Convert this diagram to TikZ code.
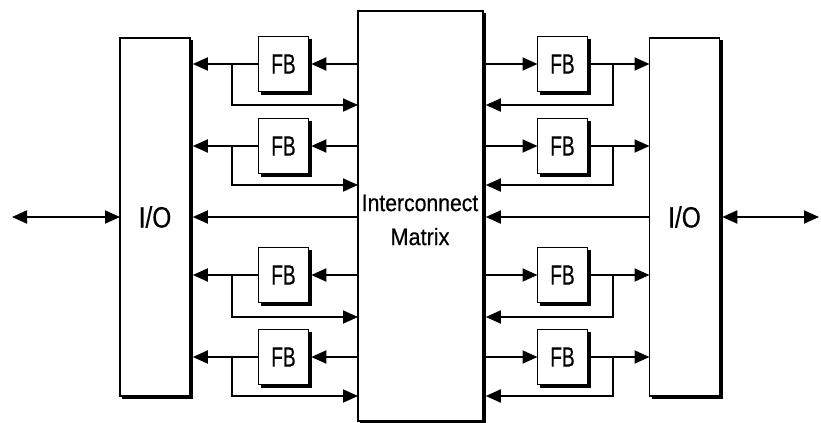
\documentclass[tikz,border=0pt]{standalone}
\usepackage{fontspec}
\newfontfamily\lab[FakeBold=0.5]{Liberation Sans}
\usetikzlibrary{arrows.meta,calc}
\tikzset{
  box/.style={draw=black, line width=0.6pt, inner sep=0pt, outer sep=0pt, fill=white},
  fbbox/.style={box, minimum width=25pt, minimum height=27.5pt, font=\fontsize{14pt}{14pt}\lab},
  iobox/.style={box, minimum width=35pt, minimum height=179pt, font=\fontsize{14.7pt}{14.7pt}\lab},
  mxbox/.style={box, minimum width=62.5pt, minimum height=205pt},
  shadowline/.style={line width=1.2pt, line join=miter},
  conn/.style={line width=0.95pt},
  arr/.style={conn, -{Triangle[length=7.5pt,width=6.5pt]}},
  darr/.style={conn, {Triangle[length=7.5pt,width=6.5pt]}-{Triangle[length=7.5pt,width=6.5pt]}},
}
\newcommand\fbtxt{\scalebox{0.68}[1]{FB}}
\newcommand\iotxt{\scalebox{0.83}[1]{I/O}}
\begin{document}
\begin{tikzpicture}[x=0.5pt,y=-0.5pt]
\useasboundingbox (0,0) rectangle (821,423);
% main blocks
\node[iobox] (lio) at (155,217) {\iotxt};
\node[iobox] (rio) at (684.5,217) {\iotxt};
\node[mxbox] (mx) at (420.5,216) {};
\node[font=\fontsize{11.9pt}{17pt}\lab, align=center, inner sep=0pt] (mxt) at (420,220)
  {\scalebox{0.89}[1]{Interconnect}\\\scalebox{0.91}[1]{Matrix}};
% function blocks
\node[fbbox] (fL1) at (283.5,64) {\fbtxt};
\node[fbbox] (fL2) at (283.5,146) {\fbtxt};
\node[fbbox] (fL3) at (283.5,275) {\fbtxt};
\node[fbbox] (fL4) at (283.5,357) {\fbtxt};
\node[fbbox] (fR1) at (562.5,64) {\fbtxt};
\node[fbbox] (fR2) at (562.5,146) {\fbtxt};
\node[fbbox] (fR3) at (562.5,275) {\fbtxt};
\node[fbbox] (fR4) at (562.5,357) {\fbtxt};
% shadows
\foreach \n in {lio,rio,mx,fL1,fL2,fL3,fL4,fR1,fR2,fR3,fR4}{
  \draw[shadowline] ([xshift=0.9pt,yshift=-1pt]\n.north east) -- ([xshift=0.9pt,yshift=-0.9pt]\n.south east) -- ([xshift=1pt,yshift=-0.9pt]\n.south west);
}
% branch coordinates
\foreach \i/\r/\f in {1/64/105, 2/146/185, 3/275/317, 4/357/396}{
  \coordinate (bL\i) at (232,\r);
  \coordinate (cL\i) at (232,\f);
  \coordinate (bR\i) at (613,\r);
  \coordinate (cR\i) at (613,\f);
}
\coordinate (lend) at (12,217);
\coordinate (rend) at (819,217);
% connectors
\foreach \i in {1,2,3,4}{
  \draw[arr] (mx.west |- fL\i.east) -- ([xshift=1.4pt]fL\i.east);
  \draw[arr] (fL\i.west) -- ([xshift=1.4pt]lio.east |- fL\i.west);
  \draw[arr] (bL\i) -- (cL\i) -- (mx.west |- cL\i);
  \draw[arr] ([xshift=1.4pt]mx.east |- fR\i.west) -- (fR\i.west);
  \draw[arr] ([xshift=1.4pt]fR\i.east) -- (rio.west |- fR\i.east);
  \draw[arr] (bR\i) -- (cR\i) -- ([xshift=1.4pt]mx.east |- cR\i);
}
% central and outer connectors
\draw[arr] (mx.west |- lio.east) -- ([xshift=1.4pt]lio.east);
\draw[arr] (rio.west) -- ([xshift=1.4pt]mx.east |- rio.west);
\draw[darr] (lend) -- (lio.west);
\draw[darr] ([xshift=1.4pt]rio.east) -- (rend);
\end{tikzpicture}
\end{document}
